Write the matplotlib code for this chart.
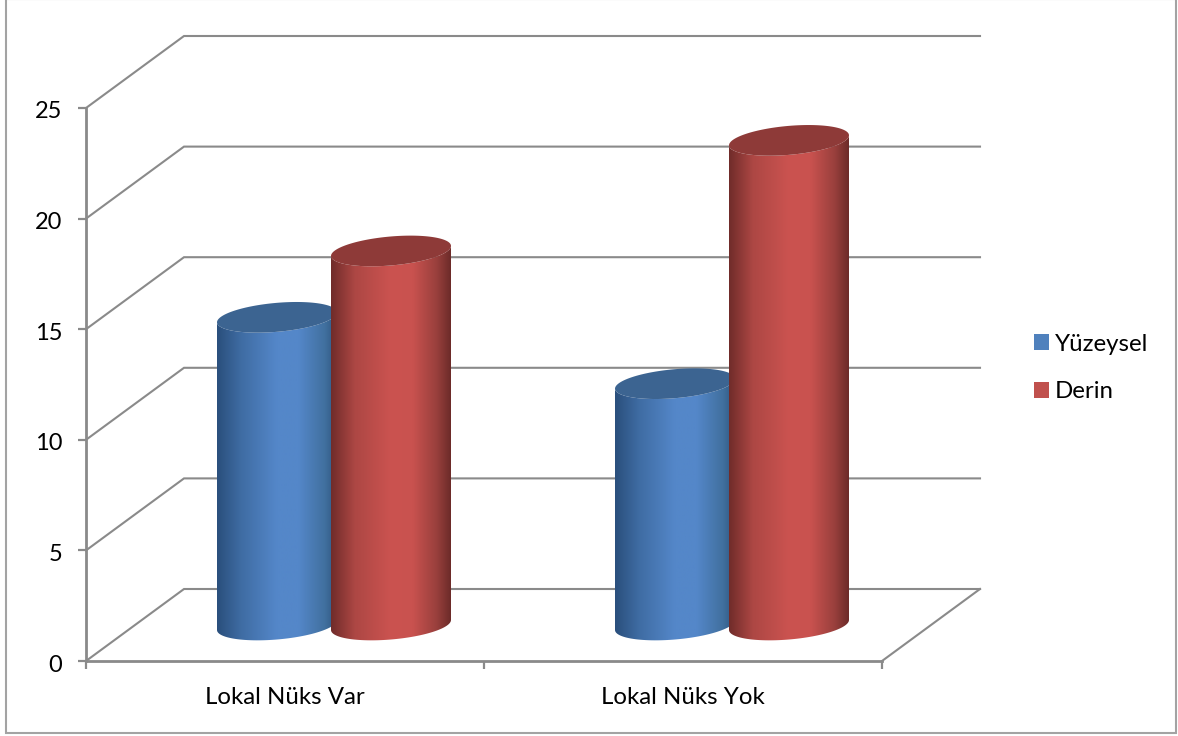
import numpy as np
import matplotlib
matplotlib.use("Agg")
import matplotlib.pyplot as plt
from matplotlib.colors import LinearSegmentedColormap
from matplotlib.patches import Patch, PathPatch, Rectangle
from matplotlib.path import Path
from matplotlib.transforms import ScaledTranslation

categories = ["Lokal Nüks Var", "Lokal Nüks Yok"]
series_names = ["Yüzeysel", "Derin"]
yuzeysel = [14, 11]
derin = [17, 22]
y_ticks = [0, 5, 10, 15, 20, 25]

W, H = 1178, 736
GRID = "#8a8a8a"
plt.rcParams["font.family"] = ["Lato", "DejaVu Sans"]

fig = plt.figure(figsize=(W / 100, H / 100), dpi=100)
fig.patch.set_facecolor("white")
fig.add_artist(Rectangle((6 / W, 3 / H), 1169.5 / W, 733.8 / H, transform=fig.transFigure,
                         fill=False, edgecolor="#a3a3a3", linewidth=1.5))

# front plane of the 3D box is the axes rectangle
ax = fig.add_axes([86 / W, (H - 661) / H, 796 / W, 553 / H])
ax.set_xlim(0, 2)
ax.set_ylim(0, 25)
ax.patch.set_alpha(0)
PX = 2 / 796       # category units per pixel
PY = 25 / 553      # value units per pixel
DX, DY = 98 * PX, 72 * PY   # oblique depth of the box


def depth_lines():
    for v in y_ticks:
        ax.plot([0, DX, 2 + DX], [v, v + DY, v + DY], color=GRID, lw=1.5,
                clip_on=False, zorder=1, solid_joinstyle="miter")
    ax.plot([2, 2 + DX], [0, DY], color=GRID, lw=1.5, clip_on=False, zorder=1)


def cylinder_paths(cx, value):
    """Outline of the body and of the cap of an obliquely viewed cylinder."""
    a, b, k = 60 * PX, 14.5 * PY, 5 * PY
    top = value + DY / 2 - 2 * PY
    base = DY / 2
    t = np.linspace(0, 2 * np.pi, 120)
    cap_x = cx + a * np.cos(t)
    cap_y = top + b * np.sin(t) + k * np.cos(t)
    cap = Path(np.column_stack([cap_x, cap_y]))
    s = np.linspace(np.pi, 2 * np.pi, 60)
    low_x = cx + a * np.cos(s)
    low_y = base + b * np.sin(s) + k * np.cos(s)
    up_x = cx + a * np.cos(s[::-1])
    up_y = top + b * np.sin(s[::-1]) + k * np.cos(s[::-1])
    body = Path(np.column_stack([np.r_[low_x, up_x], np.r_[low_y, up_y]]))
    return body, cap, (cx - a, cx + a, base - 2, top + 2)


def draw_cylinder(cx, value, cmap, cap_color, z):
    body, cap, extent = cylinder_paths(cx, value)
    clip = PathPatch(body, transform=ax.transData, facecolor="none", edgecolor="none")
    ax.add_patch(clip)
    im = ax.imshow(np.linspace(0, 1, 256)[None, :], cmap=cmap, extent=extent,
                   aspect="auto", zorder=z, interpolation="bilinear")
    im.set_clip_path(clip)
    ax.add_patch(PathPatch(cap, facecolor=cap_color, edgecolor="none", zorder=z + 0.1,
                           clip_on=False))


blue_map = LinearSegmentedColormap.from_list(
    "blue_side", [(0, "#2a4f7c"), (0.2, "#3f6ca3"), (0.5, "#5487c9"),
                  (0.68, "#5487c9"), (0.9, "#41709f"), (1, "#2f5680")])
red_map = LinearSegmentedColormap.from_list(
    "red_side", [(0, "#702c2a"), (0.2, "#ad4744"), (0.5, "#cb5350"),
                 (0.68, "#c9524f"), (0.88, "#9a403d"), (1, "#6c2b29")])

depth_lines()
offset = 57 * PX
for i in range(len(categories)):
    cx = i + 0.5 + DX / 2
    draw_cylinder(cx - offset, yuzeysel[i], blue_map, "#3c6491", 3 + i)
    draw_cylinder(cx + offset, derin[i], red_map, "#8e3a38", 3.5 + i)
ax.set_xlim(0, 2)
ax.set_ylim(0, 25)

for side in ("top", "right"):
    ax.spines[side].set_visible(False)
for side in ("left", "bottom"):
    ax.spines[side].set_color(GRID)
    ax.spines[side].set_linewidth(2.0)

ax.set_yticks(y_ticks)
ax.set_xticks([0, 1, 2])
ax.set_xticklabels([])
ax.set_xticks([0.5, 1.5], labels=categories, minor=True)
ax.tick_params(axis="both", which="major", color=GRID, width=1.6, length=6)
ax.tick_params(axis="x", which="minor", length=0, pad=19, labelsize=17.3, labelcolor="black")
ax.tick_params(axis="y", which="major", pad=11, labelsize=17, labelcolor="black")

# nudge the value labels slightly below their ticks
nudge = ScaledTranslation(0, -2 / 100, fig.dpi_scale_trans)
for label in ax.get_yticklabels():
    label.set_transform(label.get_transform() + nudge)

legend_handles = [Patch(facecolor="#4f81bd", label=series_names[0]),
                  Patch(facecolor="#c0504d", label=series_names[1])]
fig.legend(handles=legend_handles, loc="center left",
           bbox_to_anchor=(1029 / W, (H - 368) / H), frameon=False, fontsize=17.3,
           handlelength=0.63, handleheight=0.63, handletextpad=0.25,
           labelspacing=1.12, borderpad=0.2, borderaxespad=0)

fig.savefig("out.png", dpi=100)
